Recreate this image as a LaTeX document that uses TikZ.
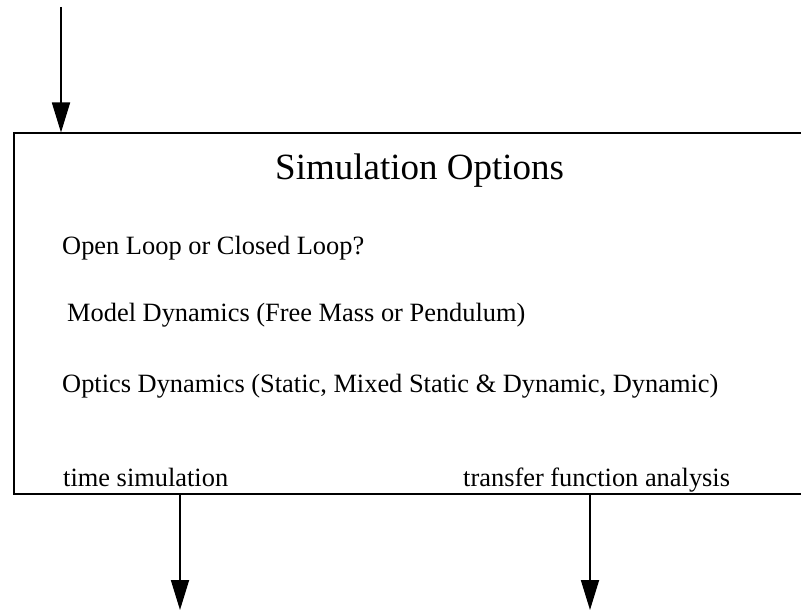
\documentclass[tikz,border=0pt]{standalone}
\usepackage{fontspec}
\setmainfont{Liberation Serif}
\usetikzlibrary{arrows.meta}
\tikzset{
  flow/.style={line width=1.8pt, -{Triangle[length=30pt,width=18pt]}},
  frame/.style={draw, line width=1.8pt, rectangle, inner sep=0pt, anchor=north west},
  item/.style={inner sep=0pt, anchor=base west, font=\fontsize{26.4}{30}\selectfont},
  heading/.style={inner sep=0pt, anchor=base west, font=\fontsize{37}{42}\selectfont},
}
\begin{document}
\begin{tikzpicture}[x=1pt,y=-1pt]
  \useasboundingbox (0,0) rectangle (801,612);
  \clip (0,0) rectangle (801,612);

  % options box (its right side runs past the page edge)
  \node[frame, minimum width=820pt, minimum height=360.5pt] (opts) at (13,132.5) {};

  % texts inside the box
  \node[heading] (title) at (275,180) {Simulation Options};
  \node[item] (loop)   at (62,255) {Open Loop or Closed Loop?};
  \node[item] (model)  at (67,322) {Model Dynamics (Free Mass or Pendulum)};
  \node[item] (optics) at (62,392) {Optics Dynamics (Static, Mixed Static \& Dynamic, Dynamic)};
  \node[item] (tsim)   at (63,486) {time simulation};
  \node[item] (tfa)    at (463,486) {transfer function analysis};

  % incoming and outgoing flows
  \coordinate (in)   at (61,7);
  \coordinate (out1) at (180,610);
  \coordinate (out2) at (590,610);
  \draw[flow] (in) -- (opts.north -| in);
  \draw[flow] (opts.south -| out1) -- (out1);
  \draw[flow] (opts.south -| out2) -- (out2);
\end{tikzpicture}
\end{document}
